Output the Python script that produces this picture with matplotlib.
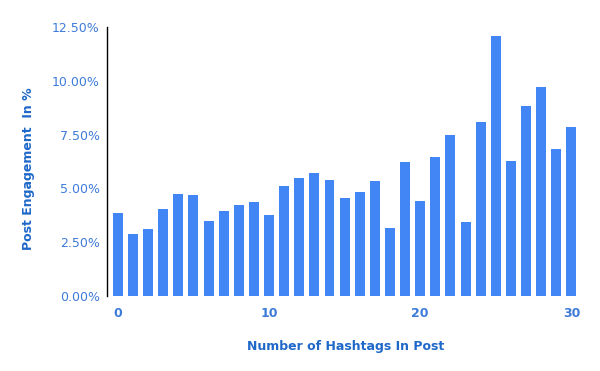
import matplotlib.pyplot as plt
from matplotlib.ticker import FuncFormatter

hashtags = list(range(31))
engagement = [3.86, 2.88, 3.11, 4.04, 4.74, 4.69, 3.49, 3.95, 4.23, 4.37,
              3.76, 5.11, 5.48, 5.72, 5.39, 4.55, 4.83, 5.34, 3.16, 6.23,
              4.41, 6.46, 7.48, 3.44, 8.09, 12.08, 6.27, 8.83, 9.71, 6.83,
              7.85]
yticks = [0, 2.5, 5, 7.5, 10, 12.5]
xticks = [0, 10, 20, 30]

BAR = '#4285f4'
TICK = '#3d7bd9'
LABEL = '#1f68c9'

fig = plt.figure(figsize=(6, 3.71), dpi=100)
ax = fig.add_axes([0.178, 0.202, 0.797, 0.725])
ax.bar(hashtags, engagement, width=0.66, color=BAR)

ax.set_xlim(-0.73, 30.9)
ax.set_ylim(0, 12.5)
ax.set_yticks(yticks)
ax.set_xticks(xticks)
ax.yaxis.set_major_formatter(FuncFormatter(lambda v, p: f'{v:.2f}%'))

for s in ['top', 'right', 'bottom']:
    ax.spines[s].set_visible(False)
ax.spines['left'].set_color('black')
ax.spines['left'].set_linewidth(1)

ax.tick_params(axis='both', length=0, labelsize=9, colors=TICK)
ax.tick_params(axis='x', pad=8)
ax.tick_params(axis='y', pad=5)
for t in ax.get_xticklabels():
    t.set_fontweight('bold')

ax.set_xlabel('Number of Hashtags In Post', fontsize=9, fontweight='bold',
              color=LABEL, labelpad=14)
ax.set_ylabel('Post Engagement  In %', fontsize=9, fontweight='bold',
              color=LABEL)
ax.yaxis.set_label_coords(-0.151, 0.474)

fig.patch.set_facecolor('white')
fig.savefig('out.png', dpi=100)
